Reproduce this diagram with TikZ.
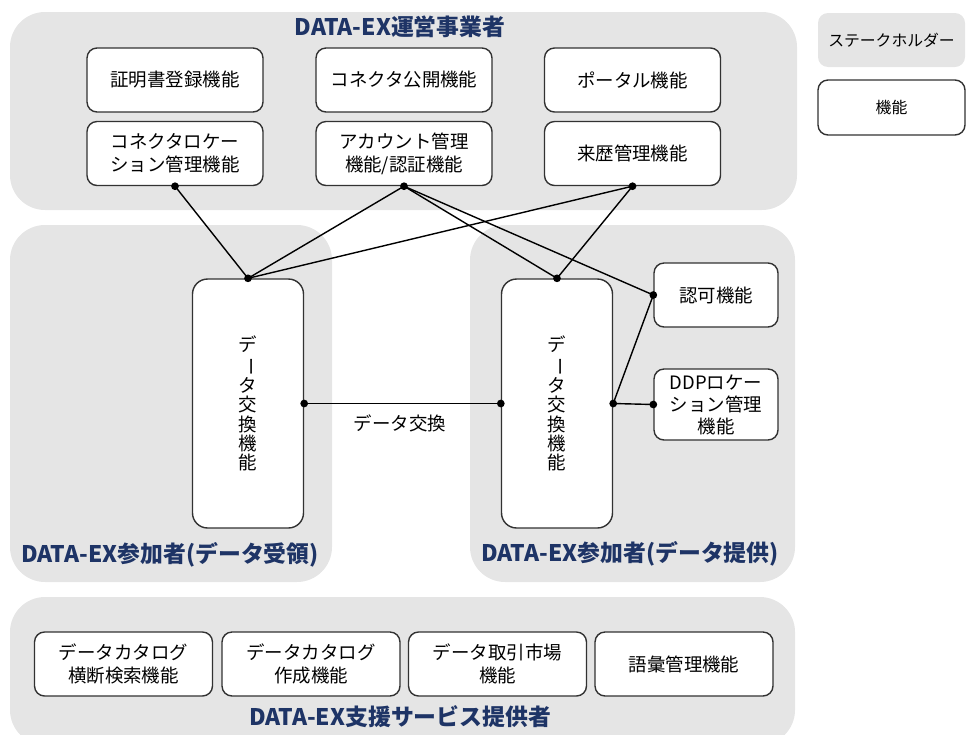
\documentclass[tikz,border=0pt]{standalone}
\usepackage{fontspec}
\setmainfont{Noto Sans CJK JP}
\usepackage{graphicx}
\usepackage{tikz}

\definecolor{stakegray}{RGB}{229,229,229}
\definecolor{titleblue}{RGB}{30,52,102}
\definecolor{boxline}{RGB}{50,50,50}

\begin{document}
\begin{tikzpicture}
%   1 unit = 1 pixel of the original figure
[x=0.02cm,y=-0.02cm,line width=0.8pt,
  region/.style={fill=stakegray,rounded corners=0.7cm},
  func node/.style={draw=boxline,fill=white,rounded corners=0.2cm,line width=0.8pt,
    minimum width=3.52cm,minimum height=1.28cm,align=center,inner sep=1pt,
    font=\fontsize{10.5}{13}\selectfont},
  dx node/.style={func node,minimum width=2.22cm,minimum height=4.98cm,
    rounded corners=0.3cm,font=\fontsize{10.5}{11}\selectfont},
  side node/.style={func node,minimum width=2.48cm},
  title node/.style={text=titleblue,font=\bfseries\fontsize{13}{15}\selectfont}]

  \useasboundingbox (0,0) rectangle (966,734);

  % stakeholders
  \fill[region] (10,12)  rectangle (797,210);
  \fill[region] (10,225) rectangle (332,582);
  \fill[region] (470,225) rectangle (795,582);
  \fill[region] (10,597) rectangle (795,745);
  \fill[stakegray,rounded corners=0.2cm] (818,13) rectangle (965,67);

  \node[title node] (OpTitle) at 		(400,27) 	{DATA-EX運営事業者};
  \node[title node] (RecvTitle) at 	(170,555) 	{DATA-EX参加者(データ受領)};
  \node[title node] (ProvTitle) at 	(630,554) 	{DATA-EX参加者(データ提供)};
  \node[title node] (SupTitle) at 	(400,717) 	{DATA-EX支援サービス提供者};

  % functions
  \node[func node] (Cert) at 		(175,80) 	{証明書登録機能};
  \node[func node] (ConLoc) at 		(175,153.5) 	{コネクタロケー\\ション管理機能};
  \node[func node] (ConPub) at 		(404,80) 	{コネクタ公開機能};
  \node[func node] (Account) at 	(404,153.5) 	{アカウント管理\\機能/認証機能};
  \node[func node] (Portal) at 		(632.5,80) 	{ポータル機能};
  \node[func node] (Prov) at 		(632.5,153.5) 	{来歴管理機能};

  \node[dx node] (DXrecv) at 		(248,403.5) 	{デ\\\rotatebox[origin=c]{-90}{ー}\\タ\\交\\換\\機\\能};
  \node[dx node] (DXprov) at 		(557,403.5) 	{デ\\\rotatebox[origin=c]{-90}{ー}\\タ\\交\\換\\機\\能};
  \node[side node] (Authz) at 		(716,295) 	{認可機能};
  \node[side node,minimum height=1.42cm,font=\fontsize{10.5}{12.5}\selectfont] (DDPloc) at (716,404.5) {DDPロケー\\ション管理\\機能};

  \node[func node,minimum width=3.56cm] (CatSearch) at 	(123.5,664) 	{データカタログ\\横断検索機能};
  \node[func node,minimum width=3.56cm] (CatMake) at 	(311,664) 	{データカタログ\\作成機能};
  \node[func node,minimum width=3.56cm] (Market) at 	(497.5,664) 	{データ取引市場\\機能};
  \node[func node,minimum width=3.56cm] (Vocab) at 	(684,664) 	{語彙管理機能};

  % legend
  \node[font=\fontsize{9}{11}\selectfont] (StakeKey) at (891.5,40) {ステークホルダー};
  \node[func node,minimum width=2.94cm,minimum height=1.1cm,font=\fontsize{9}{11}\selectfont] (FuncKey) at (891.5,107.5) {機能};

  \node[font=\fontsize{10.5}{13}\selectfont] (Exchange) at (400,423) {データ交換};

   \foreach \from/\to in {ConLoc.south/DXrecv.north,Account.south/DXrecv.north,Prov.south/DXrecv.north,Account.south/DXprov.north,Account.south/Authz.west,Prov.south/DXprov.north,Authz.west/DXprov.east,DXprov.east/DDPloc.west,DXrecv.east/DXprov.west}
     \draw (\from) -- (\to);

   \foreach \p in {ConLoc.south,Account.south,Prov.south,DXrecv.north,DXprov.north,Authz.west,DXrecv.east,DXprov.west,DXprov.east,DDPloc.west}
     \fill (\p) circle (2.2pt);

\end{tikzpicture}
\end{document}
